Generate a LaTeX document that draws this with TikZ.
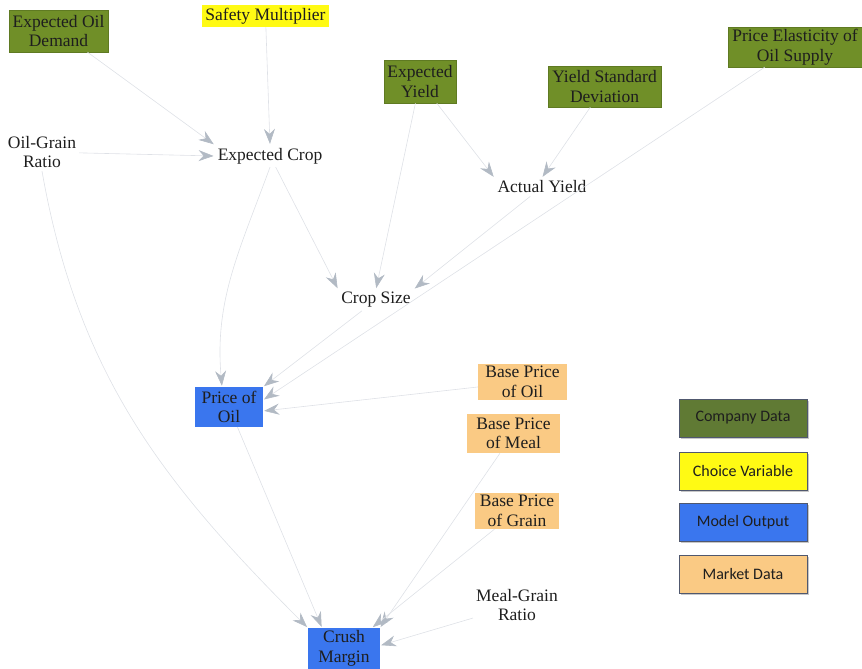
\documentclass[tikz,border=0pt]{standalone}
\usepackage{fontspec}
\setmainfont{Liberation Serif}
\newfontfamily\legfont{Carlito}
\usetikzlibrary{arrows.meta,shadows}
\definecolor{cgreen}{RGB}{112,143,40}
\definecolor{cgreendark}{RGB}{96,122,52}
\definecolor{cyellow}{RGB}{255,250,20}
\definecolor{cblue}{RGB}{58,118,238}
\definecolor{corange}{RGB}{250,202,132}
\definecolor{linegrey}{RGB}{222,225,230}
\definecolor{tipgrey}{RGB}{178,186,196}
\definecolor{txt}{RGB}{30,30,30}
\definecolor{legborder}{RGB}{80,88,110}
\begin{document}
\begin{tikzpicture}[x=1pt,y=1pt,
  every node/.style={text=txt},
  base/.style={rectangle, inner sep=0pt, align=center, font=\fontsize{17.5}{19.5}\selectfont},
  gbox/.style={base, fill=cgreen, draw=cgreen!85!black, line width=0.4pt},
  ybox/.style={base, fill=cyellow},
  bbox/.style={base, fill=cblue},
  obox/.style={base, fill=corange},
  plain/.style={base, inner sep=3pt},
  legbox/.style={rectangle, minimum width=128pt, minimum height=38pt, draw=legborder, line width=1pt,
     font=\legfont\fontsize{16}{18}\selectfont, drop shadow={shadow xshift=1.5pt, shadow yshift=-1.5pt, fill=gray!55, opacity=0.8}},
  link/.style={draw=linegrey, line width=0.6pt, shorten >=1pt,
     -{Stealth[length=15pt,width=11pt,inset=5pt,fill=tipgrey,color=tipgrey]}}
]
\useasboundingbox (0,0) rectangle (862,-669);

% company data
\node[gbox, minimum width=99pt, minimum height=42pt] (eod) at (58.5,-31) {Expected Oil\\Demand};
\node[gbox, minimum width=72pt, minimum height=43pt] (ey) at (420,-81.5) {Expected\\Yield};
\node[gbox, minimum width=113pt, minimum height=41pt] (ysd) at (604.5,-86.5) {Yield Standard\\Deviation};
\node[gbox, minimum width=134pt, minimum height=40pt] (pe) at (795,-47) {Price Elasticity of\\Oil Supply};
% choice
\node[ybox, minimum width=127pt, minimum height=22pt] (sm) at (265.5,-16) {Safety Multiplier};
% outputs
\node[bbox, minimum width=68pt, minimum height=40pt] (po) at (229,-407) {Price of\\Oil};
\node[bbox, minimum width=72pt, minimum height=41pt] (cm) at (344,-648.5) {Crush\\Margin};
% market
\node[obox, minimum width=89pt, minimum height=36pt] (bpo) at (522.5,-382) {Base Price\\of Oil};
\node[obox, minimum width=93pt, minimum height=39pt] (bpm) at (513.5,-433.5) {Base Price\\of Meal};
\node[obox, minimum width=84pt, minimum height=36pt] (bpg) at (517,-511) {Base Price\\of Grain};
% plain variables
\node[plain] (ogr) at (42,-152) {Oil-Grain\\Ratio};
\node[plain] (ec) at (270,-156) {Expected Crop};
\node[plain] (ay) at (542,-187) {Actual Yield};
\node[plain] (cs) at (376,-300) {Crop Size};
\node[plain] (mgr) at (517,-605) {Meal-Grain\\Ratio};

% legend
\node[legbox, fill=cgreendark] (lcd) at (743,-418) {Company Data};
\node[legbox, fill=cyellow] (lcv) at (743,-471) {Choice Variable};
\node[legbox, fill=cblue] (lmo) at (743,-522.5) {Model Output};
\node[legbox, fill=corange] (lmd) at (743,-574) {Market Data};

% connectors
\draw[link] (sm) -- (ec.north);
\draw[link] (eod) -- (ec.north west);
\draw[link] (ogr) -- (ec.west);
\draw[link] (ec) -- (cs.north west);
\draw[link] (ey) -- (cs.north);
\draw[link] (ey) -- (ay.north west);
\draw[link] (ysd) -- (ay.north);
\draw[link] (ay) -- (cs.north east);
\draw[link] (ec.south) to[out=250,in=95] ([xshift=-7pt]po.north);
\draw[link] (cs) -- (po.north east);
\draw[link] (pe) -- ([yshift=7pt]po.east);
\draw[link] (bpo) -- ([yshift=-4pt]po.east);
\draw[link] (po) -- ([xshift=-22pt]cm.north);
\draw[link] (ogr.south) to[out=280,in=135] (cm.north west);
\draw[link] (bpm) -- ([xshift=36pt]cm.north);
\draw[link] (bpg) -- ([xshift=28pt]cm.north);
\draw[link] (mgr) -- ([yshift=3pt]cm.east);
\end{tikzpicture}
\end{document}
